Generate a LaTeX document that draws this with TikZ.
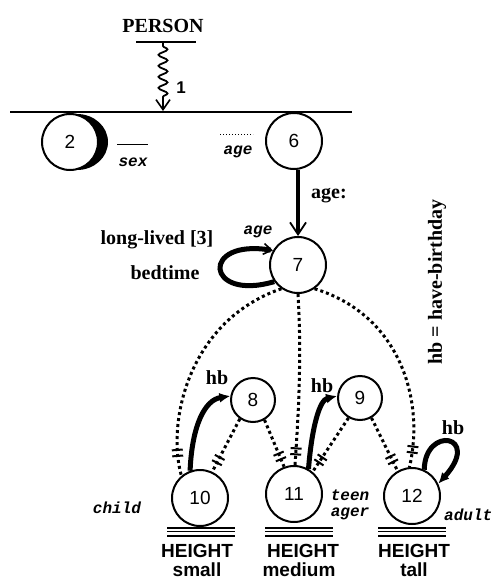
\documentclass[tikz,border=0pt]{standalone}
\usepackage{fontspec}
\setmainfont{Liberation Serif}
\setsansfont{Liberation Sans}
\setmonofont{Liberation Mono}
\usetikzlibrary{arrows.meta,decorations.pathmorphing,decorations.markings}
\begin{document}
\begin{tikzpicture}[x=1pt,y=-1pt,
  st/.style={circle,draw,line width=2pt,minimum size=56pt,inner sep=0pt,fill=white,font=\fontsize{19}{19}\selectfont\sffamily},
  sts/.style={st,minimum size=44pt},
  lab/.style={font=\fontsize{20}{22}\selectfont\bfseries\rmfamily},
  sfl/.style={font=\fontsize{19}{20}\selectfont\bfseries\sffamily},
  ttl/.style={font=\fontsize{16}{16}\selectfont\ttfamily\bfseries\itshape},
  dotl/.style={line width=3pt,dash pattern=on 3pt off 3pt},
  hash/.style={postaction={decorate},decoration={markings,mark=at position #1 with {\draw[solid,line width=2pt] (-3pt,-5.5pt)--(-3pt,5.5pt) (3pt,-5.5pt)--(3pt,5.5pt);}}},
  hash/.default=0.9,
  thk/.style={line width=5pt},
]
\useasboundingbox (0,0) rectangle (496,580);

% top
\node[lab] (person) at (163,26) {PERSON};
\coordinate (pbl) at (136,42); \coordinate (pbr) at (196,42);
\draw[line width=2pt] (pbl) -- (pbr);
\coordinate (hl) at (10,112); \coordinate (hr) at (352,112);
\coordinate (wtop) at (163,43); \coordinate (wbot) at (163,111);
\draw[line width=1.8pt,-{Straight Barb[line width=1.6pt,length=10pt,width=14pt]},
  decorate,decoration={snake,amplitude=4.5pt,segment length=11pt,pre length=3pt,post length=12pt}] (wtop) -- (wbot);
\draw[line width=2.5pt] (hl) -- (hr);
\node[font=\fontsize{17}{17}\selectfont\bfseries\sffamily] (one) at (181,88) {1};

\fill (77,142) ellipse [x radius=31pt, y radius=28pt];
\node[st] (n2) at (70,142) {2};
\node[st] (n6) at (294,141) {6};
\node[st] (n7) at (298,265) {7};
\node[sts] (n8) at (253,400) {8};
\node[sts] (n9) at (360,398) {9};
\node[st] (n10) at (200,498) {10};
\node[st] (n11) at (294,494) {11};
\node[st] (n12) at (412,496) {12};

% sex / age labels
\coordinate (sxl) at (117,145); \coordinate (sxr) at (148,145);
\draw[line width=1pt] (sxl) -- (sxr);
\node[ttl] (sex) at (133,162) {sex};
\coordinate (agl) at (220,135); \coordinate (agr) at (253,135);
\draw[line width=1pt,dotted] (agl) -- (agr);
\node[ttl] (age6) at (238,152) {age};

% 6 -> 7
\draw[line width=4pt,-{Straight Barb[line width=1.8pt,length=12pt,width=16pt]}] (n6.south -| n7.north) -- (n7.north);
\node[lab] (agec) at (329,196) {age:};

% self loop 7
\draw[thk,-{Straight Barb[line width=1.6pt,length=8pt,width=11pt]}] (n7.215) .. controls (205,302) and (200,238) .. (n7.150);
\node[ttl] (age7) at (258,232) {age};
\node[lab] (ll) at (157,240) {long-lived [3]};
\node[lab] (bt) at (165,273) {bedtime};
\node[lab,rotate=90] (hbdef) at (437,282) {hb = have-birthday};

% dotted from 7
\draw[dotl,hash=0.9] (n7.235) .. controls (190,320) and (166,420) .. (n10.130);
\draw[dotl,hash=0.92] (n7.270) .. controls (302,360) and (298,420) .. (n11.88);
\draw[dotl,hash=0.92] (n7.305) .. controls (400,315) and (425,400) .. (n12.95);

% dotted between bottom nodes
\draw[dotl,hash=0.78] (n8.235) -- (n10.65);
\draw[dotl,hash=0.78] (n8.300) -- (n11.110);
\draw[dotl,hash=0.78] (n9.240) -- (n11.50);
\draw[dotl,hash=0.78] (n9.300) -- (n12.120);

% hb arrows
\draw[thk,-{Latex[length=11pt,width=10pt]}] (n10.110) .. controls (192,425) and (205,400) .. (n8.170);
\node[lab] (hb8) at (217,378) {hb};
\draw[thk,-{Latex[length=11pt,width=10pt]}] (n11.60) .. controls (312,425) and (320,400) .. (n9.175);
\node[lab] (hb9) at (322,386) {hb};
\draw[thk,-{Latex[length=11pt,width=10pt]}] (n12.65) .. controls (425,425) and (482,435) .. (n12.25);
\node[lab] (hb12) at (453,428) {hb};

% bars and labels
\foreach \cx/\nm in {201/a,299/b,412/c}{
  \draw[line width=2pt] (\cx-34,527.5) -- (\cx+34,527.5);
  \draw[line width=1.6pt] (\cx-34,531.5) -- (\cx+34,531.5);
  \draw[line width=2pt] (\cx-34,535.5) -- (\cx+34,535.5);
}
\node[sfl] (h10) at (197,551) {HEIGHT};
\node[sfl] (s10) at (197,570) {small};
\node[sfl] (h11) at (303,551) {HEIGHT};
\node[sfl] (s11) at (299,570) {medium};
\node[sfl] (h12) at (414,551) {HEIGHT};
\node[sfl] (s12) at (414,570) {tall};

\node[ttl] (child) at (117,508) {child};
\node[ttl] (teen) at (350,495) {teen};
\node[ttl] (ager) at (350,514) {ager};
\node[ttl,anchor=west,inner sep=1pt] (adult) at (443,515) {adult};
\end{tikzpicture}
\end{document}
